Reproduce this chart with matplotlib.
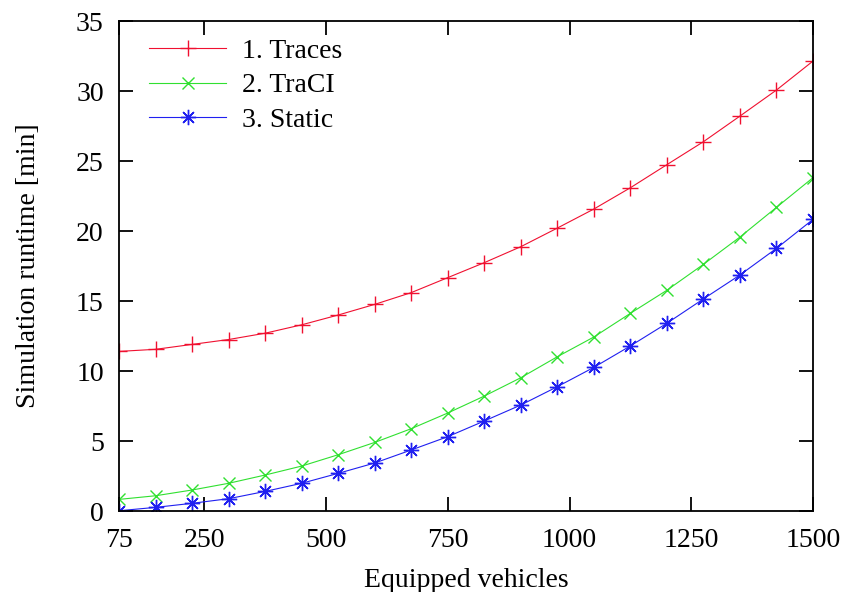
import matplotlib

matplotlib.use('Agg')

import matplotlib.pyplot as plt

# equipped vehicles (x) and simulation runtime in minutes
vehicles = [75, 150, 225, 300, 375, 450, 525, 600, 675, 750,
            825, 900, 975, 1050, 1125, 1200, 1275, 1350, 1425, 1500]
traces = [11.4, 11.55, 11.9, 12.25, 12.7, 13.3, 14.0, 14.76, 15.6, 16.67,
          17.74, 18.88, 20.21, 21.57, 23.09, 24.74, 26.38, 28.21, 30.07, 32.14]
traci = [0.83, 1.09, 1.5, 1.98, 2.57, 3.21, 4.02, 4.9, 5.88, 7.0,
         8.21, 9.52, 11.02, 12.43, 14.12, 15.77, 17.62, 19.57, 21.69, 23.81]
static = [0.02, 0.26, 0.55, 0.88, 1.4, 1.98, 2.69, 3.43, 4.36, 5.31,
          6.43, 7.57, 8.88, 10.26, 11.79, 13.41, 15.15, 16.86, 18.76, 20.83]

series_labels = ['1. Traces', '2. TraCI', '3. Static']
xticks = [75, 250, 500, 750, 1000, 1250, 1500]
yticks = [0, 5, 10, 15, 20, 25, 30, 35]

plt.rcParams.update({'font.family': 'Liberation Serif',
                     'font.size': 20,
                     'axes.linewidth': 1.3})

fig = plt.figure(figsize=(8.46, 5.92), dpi=100)
ax = fig.add_axes([0.1407, 0.1368, 0.961 - 0.1407, 0.9645 - 0.1368])

ax.plot(vehicles, traces, color='#f01030', lw=0.8, marker='+', ms=11,
        mew=1.0, label=series_labels[0])
ax.plot(vehicles, traci, color='#30e030', lw=0.8, marker='x', ms=9,
        mew=1.0, label=series_labels[1])
ax.plot(vehicles, static, color='#2020f0', lw=0.8, marker=(8, 2, 0), ms=11,
        mew=1.0, label=series_labels[2])

ax.set_xlim(75, 1500)
ax.set_ylim(0, 35)
ax.set_xticks(xticks)
ax.set_yticks(yticks)
ax.tick_params(direction='in', length=10, width=1.3, top=True, right=True, pad=12)
ax.tick_params(axis='y', pad=11)

ax.set_xlabel('Equipped vehicles', fontsize=20, labelpad=11)
ax.set_ylabel('Simulation runtime [min]', fontsize=20, labelpad=25)

ax.legend(loc='upper left', frameon=False, fontsize=20, handlelength=2.77,
          handletextpad=0.58, labelspacing=0.33, borderaxespad=0.22,
          bbox_to_anchor=(0.019, 1.0))

plt.savefig('out.png', dpi=100)
